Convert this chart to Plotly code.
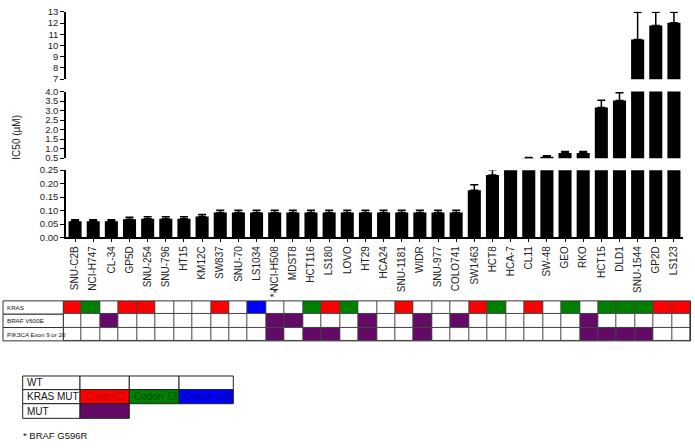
import plotly.graph_objects as go

W, H = 695, 448

cell_lines = ["SNU-C2B", "NCI-H747", "CL-34", "GP5D", "SNU-254", "SNU-796", "HT15", "KM12C",
              "SW837", "SNU-70", "LS1034", "* NCI-H508", "MDST8", "HCT116", "LS180", "LOVO",
              "HT29", "HCA24", "SNU-1181", "WIDR", "SNU-977", "COLO741", "SW1463", "HCT8",
              "HCA-7", "CL11", "SW-48", "GEO", "RKO", "HCT15", "DLD1", "SNU-1544", "GP2D", "LS123"]

ic50 = [0.060, 0.060, 0.060, 0.068, 0.070, 0.070, 0.070, 0.078,
        0.093, 0.093, 0.093, 0.093, 0.093, 0.093, 0.093, 0.093,
        0.093, 0.093, 0.093, 0.093, 0.093, 0.093, 0.175, 0.232,
        0.35, 0.49, 0.57, 0.77, 0.77, 3.16, 3.53, 10.54, 11.78, 12.02]

ic50_err = [0.006, 0.006, 0.006, 0.007, 0.007, 0.007, 0.007, 0.007,
            0.008, 0.008, 0.008, 0.008, 0.008, 0.008, 0.008, 0.008,
            0.008, 0.008, 0.008, 0.008, 0.008, 0.008, 0.021, 0.02,
            0.0, 0.04, 0.06, 0.08, 0.08, 0.38, 0.41, 2.43, 1.19, 0.95]

kras = ["C12", "C13", "WT", "C12", "C12", "WT", "WT", "WT", "C12", "WT", "C146", "WT", "WT", "C13",
        "C12", "C13", "WT", "WT", "C12", "WT", "WT", "WT", "C12", "C13", "WT", "C12", "WT", "C13",
        "WT", "C13", "C13", "C13", "C12", "C12"]
braf_mut = ["CL-34", "* NCI-H508", "MDST8", "HT29", "WIDR", "COLO741", "RKO"]
pik3ca_mut = ["* NCI-H508", "HCT116", "LS180", "HT29", "WIDR", "RKO", "HCT15", "DLD1", "SNU-1544"]
row_labels = ["KRAS", "BRAF V600E", "PIK3CA Exon 9 or 20"]

segment_ranges = [[0, 0.25], [0.5, 4.0], [7, 13]]


def px(p):
    return p / W


def py(p):
    return 1 - p / H


code = {"WT": 0, "C12": 1, "C13": 2, "C146": 3, "MUT": 4}
z = [
    [code[k] for k in kras],
    [code["MUT"] if c in braf_mut else 0 for c in cell_lines],
    [code["MUT"] if c in pik3ca_mut else 0 for c in cell_lines],
]

RED, GREEN, BLUE, PURPLE = "#ff0000", "#008000", "#0000ff", "#620a66"
cscale = [[0, "white"], [0.2, "white"], [0.2, RED], [0.4, RED], [0.4, GREEN], [0.6, GREEN],
          [0.6, BLUE], [0.8, BLUE], [0.8, PURPLE], [1, PURPLE]]

fig = go.Figure()
n = len(cell_lines)
for ya in ["y", "y2", "y3"]:
    fig.add_trace(go.Bar(
        x=cell_lines, y=ic50, xaxis="x", yaxis=ya,
        marker=dict(color="black", line_width=0),
        error_y=dict(type="data", symmetric=False, array=ic50_err, arrayminus=[0] * n,
                     color="black", thickness=1.5, width=4),
        showlegend=False, hoverinfo="x+y",
    ))

fig.add_trace(go.Heatmap(
    x=list(range(n)), y=[0, 1, 2], z=z, xaxis="x2", yaxis="y4",
    colorscale=cscale, zmin=-0.5, zmax=4.5, showscale=False, xgap=1, ygap=1,
    hoverinfo="skip",
))

tickfont = dict(family="Liberation Sans, Arial, sans-serif", size=10, color="#222")
ytickfont = dict(tickfont, size=9.5)
yax_common = dict(anchor="x", showline=True, linecolor="black", linewidth=1.5, ticks="outside",
                  ticklen=4, tickwidth=1.2, tickcolor="black", showgrid=False, zeroline=False,
                  tickfont=ytickfont)

xdom = [px(66), px(683)]
fig.update_layout(
    width=W, height=H, margin=dict(l=0, r=0, t=0, b=0),
    paper_bgcolor="white", plot_bgcolor="white",
    bargap=0.28,
    xaxis=dict(domain=xdom, anchor="y", type="category", showline=True, linecolor="black",
               linewidth=1.5, ticks="outside", ticklen=3, tickcolor="black", tickangle=-90,
               tickfont=tickfont, showgrid=False),
    yaxis=dict(domain=[py(237.3), py(168.3)], range=segment_ranges[0], tickmode="array",
               tickvals=[0, 0.05, 0.10, 0.15, 0.20, 0.25], tickformat=".2f", **yax_common),
    yaxis2=dict(domain=[py(156), py(87.7)], range=segment_ranges[1], tick0=0.5, dtick=0.5,
                tickformat=".1f", **yax_common),
    yaxis3=dict(domain=[py(75), py(6)], range=segment_ranges[2], tick0=7, dtick=1, **yax_common),
    xaxis2=dict(domain=[px(63.3), px(690.5)], anchor="y4", range=[-0.5, n - 0.5], visible=False),
    yaxis4=dict(domain=[py(343.3), py(302.3)], anchor="x2", range=[2.5, -0.5], visible=False),
)

shapes = []
annotations = []

# gray background showing through the heatmap gaps (cell borders)
shapes.append(dict(type="rect", xref="x2 domain", yref="y4 domain", x0=0, x1=1, y0=0, y1=1,
                   fillcolor="#454545", line=dict(width=0), layer="below"))
shapes.append(dict(type="rect", xref="x2 domain", yref="y4 domain", x0=0, x1=1, y0=0, y1=1,
                   fillcolor="rgba(0,0,0,0)", line=dict(color="#333", width=1), layer="above"))

tfont = dict(family="Liberation Sans Narrow, Arial Narrow, Liberation Sans, sans-serif", size=6.2,
             color="#111")
row_edges = [302.3, 316.0, 329.6, 343.3]
for i, lab in enumerate(row_labels):
    shapes.append(dict(type="rect", xref="paper", yref="paper", x0=px(3), x1=px(63.3),
                       y0=py(row_edges[i + 1]), y1=py(row_edges[i]),
                       fillcolor="white", line=dict(color="#333", width=1)))
    annotations.append(dict(xref="paper", yref="paper", x=px(4.5), y=py((row_edges[i] + row_edges[i + 1]) / 2),
                            text=lab, showarrow=False, xanchor="left", yanchor="middle", font=tfont))

annotations.append(dict(xref="x2", yref="paper", x=cell_lines.index("* NCI-H508"), y=py(294.5),
                        text="*", showarrow=False, xanchor="center", yanchor="middle",
                        font=dict(family="Liberation Sans", size=10, color="#222")))

# legend table
lfont = dict(family="Liberation Sans Narrow, Arial Narrow, Liberation Sans, sans-serif", size=10,
             color="#111")
cols = [22.7, 80, 129.3, 179, 233.3]
rows = [379.3, 393.3, 407.7, 422.7]
legend_cells = [
    (0, 0, "white", "WT", "#111"), (0, 1, "white", "", ""), (0, 2, "white", "", ""), (0, 3, "white", "", ""),
    (1, 0, "white", "KRAS MUT", "#111"), (1, 1, RED, "Codon12", "#c00000"),
    (1, 2, GREEN, "Codon 13", "#004a00"), (1, 3, BLUE, "Codon 146", "#00009a"),
    (2, 0, "white", "MUT", "#111"), (2, 1, PURPLE, "", ""),
]
for r, c, fill, txt, tc in legend_cells:
    shapes.append(dict(type="rect", xref="paper", yref="paper", x0=px(cols[c]), x1=px(cols[c + 1]),
                       y0=py(rows[r + 1]), y1=py(rows[r]), fillcolor=fill,
                       line=dict(color="#222", width=1)))
    if txt:
        annotations.append(dict(xref="paper", yref="paper", x=px(cols[c] + 2.5),
                                y=py((rows[r] + rows[r + 1]) / 2), text=txt, showarrow=False,
                                xanchor="left", yanchor="middle", font=dict(lfont, color=tc)))

annotations.append(dict(xref="paper", yref="paper", x=px(21), y=py(440), text="* BRAF G596R",
                        showarrow=False, xanchor="left", yanchor="middle",
                        font=dict(lfont, size=9.5)))

annotations.append(dict(xref="paper", yref="paper", x=px(17), y=py(135), text="IC50 (µM)",
                        showarrow=False, textangle=-90, xanchor="center", yanchor="middle",
                        font=tickfont))

fig.update_layout(shapes=shapes, annotations=annotations)
fig.write_html("out.html", config={"displayModeBar": False},
               post_script="document.body.style.margin='0';document.body.style.padding='0';")
